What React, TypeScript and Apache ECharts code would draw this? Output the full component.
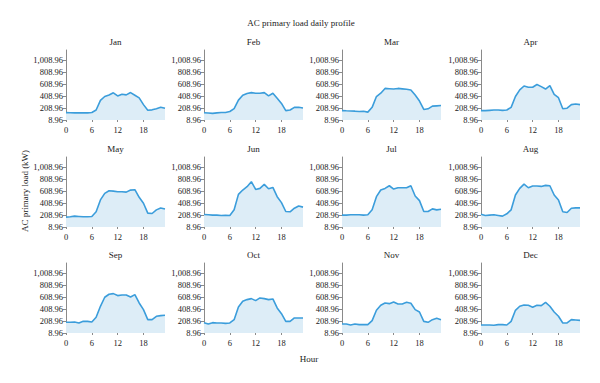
import React, { useEffect, useRef } from "react";
import * as echarts from "echarts";

const months = ["Jan", "Feb", "Mar", "Apr", "May", "Jun", "Jul", "Aug", "Sep", "Oct", "Nov", "Dec"];
const hours = [0, 1, 2, 3, 4, 5, 6, 7, 8, 9, 10, 11, 12, 13, 14, 15, 16, 17, 18, 19, 20, 21, 22, 23];
const xTicks = [0, 6, 12, 18];
const yTicks = [8.96, 208.96, 408.96, 608.96, 808.96, 1008.96];

const jan = [131, 130, 128, 129, 128, 127, 135, 175, 335, 400, 425, 462, 410, 438, 428, 466, 422, 378, 265, 172, 178, 198, 222, 205];
const feb = [131, 126, 120, 128, 135, 134, 150, 198, 340, 420, 450, 465, 455, 455, 465, 410, 455, 370, 285, 165, 175, 220, 220, 210];
const mar = [165, 162, 160, 156, 150, 155, 140, 220, 400, 455, 535, 530, 525, 535, 528, 520, 510, 425, 325, 185, 195, 240, 245, 250];
const apr = [165, 165, 170, 175, 175, 170, 175, 220, 400, 510, 575, 555, 555, 600, 565, 525, 580, 435, 380, 195, 205, 265, 275, 265];
const may = [174, 179, 190, 185, 180, 180, 185, 262, 460, 570, 613, 607, 596, 596, 590, 624, 630, 503, 404, 240, 234, 294, 327, 310];
const jun = [218, 213, 207, 207, 200, 205, 200, 295, 553, 625, 680, 763, 635, 652, 718, 647, 668, 514, 415, 267, 262, 322, 360, 340];
const jul = [207, 207, 213, 213, 213, 207, 213, 295, 514, 625, 652, 696, 641, 663, 663, 663, 696, 525, 448, 267, 267, 311, 294, 305];
const aug = [223, 201, 207, 212, 201, 190, 229, 295, 542, 652, 724, 663, 691, 691, 685, 702, 696, 542, 459, 262, 251, 322, 327, 327];
const sep = [187, 187, 192, 176, 203, 203, 192, 270, 454, 604, 654, 665, 632, 643, 643, 609, 648, 509, 398, 231, 231, 287, 298, 304];
const oct = [181, 159, 181, 176, 176, 170, 176, 231, 443, 537, 565, 582, 548, 593, 582, 565, 576, 426, 331, 203, 203, 259, 259, 259];
const nov = [159, 159, 142, 159, 148, 148, 148, 215, 387, 470, 509, 498, 526, 493, 493, 520, 504, 398, 359, 203, 187, 231, 253, 231];
const dec = [142, 142, 142, 137, 148, 148, 142, 203, 387, 454, 476, 470, 437, 470, 465, 520, 454, 359, 287, 176, 176, 231, 226, 220];

const monthData = [jan, feb, mar, apr, may, jun, jul, aug, sep, oct, nov, dec];

const FONT = "'Liberation Serif', 'DejaVu Serif', serif";
const LINE = "#3b9ddb";
const FILL = "#ddedf7";
const AXIS = "#8a8a8a";
const TEXT = "#1a1a1a";

export default function App() {
  const ref = useRef<HTMLDivElement>(null);
  useEffect(() => {
    if (!ref.current) return;
    const chart = echarts.init(ref.current, undefined, { renderer: "svg" });
    const lefts = [66, 204, 342, 481];
    const bottoms = [120, 227, 333];
    const W = 99;
    const H = 70;
    const grids: any[] = [];
    const xAxes: any[] = [];
    const yAxes: any[] = [];
    const series: any[] = [];
    const graphics: any[] = [];
    monthData.forEach((vals, i) => {
      const r = Math.floor(i / 4);
      const c = i % 4;
      grids.push({ left: lefts[c], top: bottoms[r] - H, width: W, height: H });
      xAxes.push({
        type: "value",
        gridIndex: i,
        min: 0,
        max: 23,
        interval: 6,
        axisLine: { show: false },
        axisTick: { show: true, length: 2, lineStyle: { color: AXIS }, customValues: xTicks },
        axisLabel: { fontFamily: FONT, fontSize: 8.5, color: TEXT, margin: 5, customValues: xTicks },
        splitLine: { show: false },
      });
      yAxes.push({
        type: "value",
        gridIndex: i,
        min: 8.96,
        max: 1175,
        interval: 200,
        axisLine: { show: true, lineStyle: { color: AXIS, width: 1 } },
        axisTick: { show: true, length: 3, lineStyle: { color: AXIS }, customValues: yTicks },
        axisLabel: {
          fontFamily: FONT,
          fontSize: 8.5,
          color: TEXT,
          margin: 3,
          customValues: yTicks,
          formatter: (v: number) =>
            v.toLocaleString("en-US", { minimumFractionDigits: 2, maximumFractionDigits: 2 }),
        },
        splitLine: { show: false },
      });
      series.push({
        type: "line",
        xAxisIndex: i,
        yAxisIndex: i,
        data: hours.map((h, k) => [h, vals[k]]),
        showSymbol: false,
        symbol: "none",
        lineStyle: { color: LINE, width: 1.6 },
        areaStyle: { color: FILL, opacity: 1, origin: "start" },
      });
      graphics.push({
        type: "text",
        x: lefts[c] + W / 2,
        y: bottoms[r] - 78,
        style: { text: months[i], font: `9px ${FONT}`, fill: TEXT, align: "center", verticalAlign: "middle" },
      });
    });
    graphics.push({
      type: "text",
      x: 301,
      y: 23,
      style: { text: "AC primary load daily profile", font: `9px ${FONT}`, fill: TEXT, align: "center", verticalAlign: "middle" },
    });
    graphics.push({
      type: "text",
      x: 309,
      y: 359,
      style: { text: "Hour", font: `9px ${FONT}`, fill: TEXT, align: "center", verticalAlign: "middle" },
    });
    graphics.push({
      type: "text",
      x: 25,
      y: 191,
      rotation: Math.PI / 2,
      style: { text: "AC primary load (kW)", font: `9px ${FONT}`, fill: TEXT, align: "center", verticalAlign: "middle" },
    });
    chart.setOption({
      animation: false,
      backgroundColor: "#ffffff",
      textStyle: { fontFamily: FONT, color: TEXT },
      grid: grids,
      xAxis: xAxes,
      yAxis: yAxes,
      series,
      graphic: graphics,
    });
    return () => chart.dispose();
  }, []);
  return (
    <div
      ref={ref}
      style={{ position: "absolute", left: 0, top: 0, width: 600, height: 383 }}
    />
  );
}
